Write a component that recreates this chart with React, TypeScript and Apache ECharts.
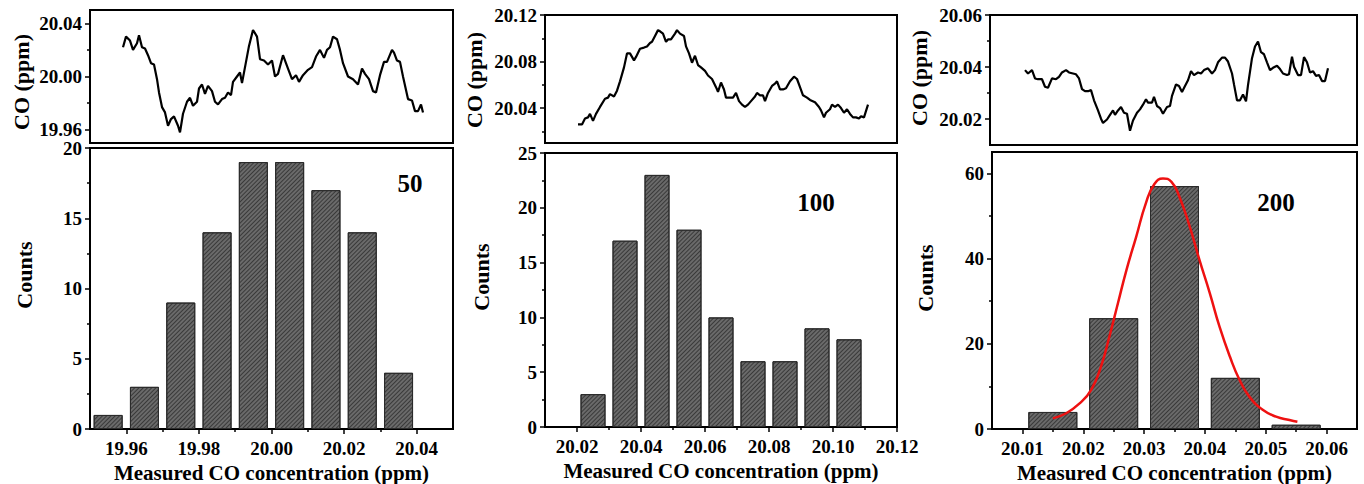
import React, { useEffect, useRef } from "react";
import * as echarts from "echarts";

// ---------- Data ----------
// Panel "50"
const time50 = [0,3,7,10,14,16,19,22,25,28,31,34,36,39,42,45,48,51,55,57,60,64,67,70,74,76,79,82,85,89,92,95,99,102,105,108,110,114,117,119,123,126,130,134,137,141,145,149,152,155,160,165,169,173,176,180,185,189,193,197,201,204,207,210,214,217,220,225,230,235,239,242,246,250,253,257,261,264,269,271,274,277,280,285,289,292,295,298,300];
const co50 = [20.022,20.030,20.027,20.020,20.025,20.031,20.022,20.021,20.016,20.010,20.009,19.998,19.988,19.977,19.973,19.963,19.968,19.970,19.963,19.958,19.972,19.981,19.984,19.978,19.981,19.991,19.994,19.987,19.993,19.989,19.981,19.979,19.983,19.984,19.988,19.986,19.996,20.000,20.003,19.995,20.011,20.023,20.035,20.030,20.013,20.012,20.009,20.012,20.000,20.002,20.016,20.006,19.998,20.001,19.996,20.001,20.005,20.007,20.015,20.020,20.014,20.020,20.022,20.030,20.028,20.020,20.010,20.000,19.998,19.994,20.006,20.002,19.998,19.989,19.988,20.001,20.011,20.011,20.020,20.018,20.012,20.011,20.000,19.983,19.982,19.974,19.974,19.979,19.973];
const bins50 = [19.955,19.965,19.975,19.985,19.995,20.005,20.015,20.025,20.035];
const counts50 = [1,3,9,14,19,19,17,14,4];

// Panel "100"
const time100 = [0,4,7,10,12,15,18,22,27,30,32,36,39,42,46,49,52,56,58,62,66,69,72,74,77,80,82,85,88,90,93,97,99,102,106,108,111,114,117,120,123,127,130,134,138,140,143,146,148,152,155,158,161,164,167,170,173,177,179,182,185,187,190,194,197,199,202,205,208,212,216,219,222,225,229,232,237,241,243,246,248,252,254,257,260,263,266,269,272,275,278,281,283,286,290];
const co100 = [20.026,20.026,20.031,20.032,20.035,20.029,20.035,20.041,20.048,20.049,20.052,20.050,20.055,20.063,20.075,20.087,20.087,20.081,20.084,20.091,20.092,20.093,20.096,20.097,20.102,20.107,20.106,20.104,20.097,20.099,20.099,20.104,20.107,20.104,20.102,20.093,20.087,20.079,20.085,20.077,20.075,20.072,20.068,20.065,20.058,20.054,20.062,20.056,20.049,20.049,20.049,20.053,20.046,20.043,20.041,20.043,20.046,20.050,20.053,20.051,20.051,20.046,20.053,20.059,20.061,20.063,20.056,20.056,20.057,20.063,20.067,20.065,20.058,20.051,20.049,20.047,20.045,20.041,20.038,20.032,20.036,20.039,20.043,20.041,20.043,20.040,20.036,20.039,20.035,20.032,20.032,20.031,20.033,20.032,20.043];
const bins100 = [20.025,20.035,20.045,20.055,20.065,20.075,20.085,20.095,20.105];
const counts100 = [3,17,23,18,10,6,6,9,8];

// Panel "200"
const time200 = [0,3,7,10,13,17,20,23,27,31,34,37,41,44,47,51,54,57,60,63,66,69,73,76,78,82,85,88,90,93,96,99,102,105,108,112,115,118,121,123,127,129,132,135,138,142,145,147,151,154,157,160,163,166,169,173,176,179,183,187,190,193,197,200,203,207,209,212,215,218,221,223,227,230,233,236,239,242,245,248,252,255,258,262,264,267,269,273,276,279,282,285,288,291,294,297,300,303];
const co200 = [20.0388,20.0375,20.0388,20.0356,20.0353,20.0353,20.0324,20.032,20.0356,20.0353,20.0362,20.0379,20.0388,20.0379,20.0376,20.0372,20.0356,20.0315,20.0307,20.0307,20.0311,20.0272,20.0233,20.0201,20.0185,20.0198,20.0216,20.0233,20.0216,20.0233,20.0246,20.0224,20.022,20.0155,20.0194,20.0224,20.0237,20.0255,20.0276,20.0263,20.0263,20.0285,20.025,20.0242,20.022,20.0246,20.025,20.0289,20.0333,20.0327,20.0304,20.0327,20.0349,20.0384,20.0369,20.0379,20.0375,20.0388,20.0395,20.0375,20.0388,20.0418,20.0436,20.0436,20.0421,20.0375,20.0333,20.0272,20.0272,20.0294,20.0268,20.033,20.0434,20.0479,20.0498,20.0457,20.0449,20.0418,20.0388,20.0397,20.0405,20.0392,20.0375,20.0369,20.0372,20.044,20.0401,20.0369,20.0369,20.0438,20.0418,20.0379,20.0384,20.0366,20.0369,20.0346,20.0346,20.0395];
const bins200 = [20.015,20.025,20.035,20.045,20.055];
const counts200 = [4,26,57,12,1];
const fitX200 = [20.015,20.0172,20.0194,20.0213,20.0229,20.0243,20.0257,20.0271,20.0287,20.0303,20.0317,20.0331,20.0345,20.0358,20.0375,20.0391,20.0408,20.0424,20.0441,20.0457,20.0473,20.0495,20.0517,20.0539,20.0552];
const fitY200 = [2.5,3.7,6.0,9.2,14.6,21.7,29.5,37.3,45.1,53.0,57.5,58.8,58.0,54.5,47.5,39.7,31.9,24.0,17.0,11.5,7.6,4.5,2.9,2.1,1.7];

// Tick values
const topYMajor50 = [19.96, 20.0, 20.04];
const topYMinor50 = [19.98, 20.02];
const topYMajor100 = [20.04, 20.08, 20.12];
const topYMinor100 = [20.02, 20.06, 20.1];
const topYMajor200 = [20.02, 20.04, 20.06];
const topYMinor200 = [20.03, 20.05];
const xMajor50 = [19.96, 19.98, 20.0, 20.02, 20.04];
const xMinor50 = [19.97, 19.99, 20.01, 20.03];
const xMajor100 = [20.02, 20.04, 20.06, 20.08, 20.1, 20.12];
const xMinor100 = [20.03, 20.05, 20.07, 20.09, 20.11];
const xMajor200 = [20.01, 20.02, 20.03, 20.04, 20.05, 20.06];
const xMinor200 = [20.015, 20.025, 20.035, 20.045, 20.055];
const yMajor50 = [0, 5, 10, 15, 20];
const yMinor50 = [2.5, 7.5, 12.5, 17.5];
const yMajor100 = [0, 5, 10, 15, 20, 25];
const yMinor100 = [2.5, 7.5, 12.5, 17.5, 22.5];
const yMajor200 = [0, 20, 40, 60];
const yMinor200 = [10, 30, 50];

const panelLabels = ["50", "100", "200"];
const yNameTop = "CO (ppm)";
const yNameBottom = "Counts";
const xNameBottom = "Measured CO concentration (ppm)";

const FONT = '"Liberation Serif", "Times New Roman", serif';

export default function App() {
  const ref = useRef<HTMLDivElement>(null);

  useEffect(() => {
    if (!ref.current) return;
    const chart = echarts.init(ref.current, undefined, { renderer: "svg" });

    const panels = [
      {
        time: time50, co: co50, bins: bins50, counts: counts50,
        topY: [19.95, 20.05], topT: [-33, 330], topYMajor: topYMajor50, topYMinor: topYMinor50,
        x: [19.95, 20.05], xMajor: xMajor50, xMinor: xMinor50,
        y: [0, 20], yMajor: yMajor50, yMinor: yMinor50,
        topGrid: { left: 90, top: 10, width: 363, height: 133 },
        botGrid: { left: 90, top: 148, width: 363, height: 281 },
        barWidth: 29,
        names: { coX: 21, coY: 82, cntX: 24, cntY: 275 },
        label: { x: 410, y: 183 },
      },
      {
        time: time100, co: co100, bins: bins100, counts: counts100,
        topY: [20.01, 20.12], topT: [-33, 319], topYMajor: topYMajor100, topYMinor: topYMinor100,
        x: [20.01, 20.12], xMajor: xMajor100, xMinor: xMinor100,
        y: [0, 25], yMajor: yMajor100, yMinor: yMinor100,
        topGrid: { left: 545, top: 15, width: 352, height: 128 },
        botGrid: { left: 545, top: 153, width: 352, height: 274 },
        barWidth: 25,
        names: { coX: 474, coY: 80, cntX: 481, cntY: 277 },
        label: { x: 816, y: 202 },
      },
      {
        time: time200, co: co200, bins: bins200, counts: counts200,
        topY: [20.01, 20.06], topT: [-35, 332], topYMajor: topYMajor200, topYMinor: topYMinor200,
        x: [20.005, 20.065], xMajor: xMajor200, xMinor: xMinor200,
        y: [0, 65], yMajor: yMajor200, yMinor: yMinor200,
        topGrid: { left: 990, top: 15, width: 367, height: 130 },
        botGrid: { left: 992, top: 152, width: 365, height: 277 },
        barWidth: 49,
        names: { coX: 919, coY: 78, cntX: 925, cntY: 278 },
        label: { x: 1276, y: 202 },
      },
    ];

    const grids: any[] = [];
    const xAxes: any[] = [];
    const yAxes: any[] = [];
    const series: any[] = [];
    const graphics: any[] = [];

    const labelStyle = { fontFamily: FONT, fontWeight: "bold", fontSize: 19, color: "#000" };

    const mainAxis = (gridIndex: number, min: number, max: number, major: number[], fmt: (v: number) => string, margin: number, extra: any = {}) => ({
      type: "value", gridIndex, min, max,
      axisLine: { show: true, onZero: false, lineStyle: { color: "#000", width: 2 } },
      axisTick: { show: true, customValues: major, length: 5, inside: false, lineStyle: { color: "#000", width: 1.5 } },
      axisLabel: { show: true, customValues: major, formatter: fmt, margin, ...labelStyle },
      splitLine: { show: false },
      ...extra,
    });
    const minorAxis = (gridIndex: number, min: number, max: number, minor: number[], extra: any = {}) => ({
      type: "value", gridIndex, min, max,
      axisLine: { show: false, onZero: false },
      axisTick: { show: true, customValues: minor, length: 3, inside: false, lineStyle: { color: "#000", width: 1.5 } },
      axisLabel: { show: false },
      splitLine: { show: false },
      ...extra,
    });
    const hiddenAxis = (gridIndex: number, min: number, max: number) => ({
      type: "value", gridIndex, min, max, show: false, axisLine: { onZero: false }, splitLine: { show: false },
    });

    const gridBase = { show: true, borderColor: "#000", borderWidth: 2, containLabel: false, outerBoundsMode: "none" };

    panels.forEach((p, i) => {
      const gTop = grids.length;
      grids.push({ ...p.topGrid, ...gridBase });
      const gBot = grids.length;
      grids.push({ ...p.botGrid, ...gridBase });

      // top grid axes
      const xTopIdx = xAxes.length;
      xAxes.push(hiddenAxis(gTop, p.topT[0], p.topT[1]));
      xAxes.push(hiddenAxis(gTop, p.topT[0], p.topT[1]));
      const yTopIdx = yAxes.length;
      yAxes.push(mainAxis(gTop, p.topY[0], p.topY[1], p.topYMajor, (v: number) => v.toFixed(2), 8, { position: "left" }));
      yAxes.push(minorAxis(gTop, p.topY[0], p.topY[1], p.topYMinor, { position: "left" }));

      // bottom grid axes
      const xBotIdx = xAxes.length;
      xAxes.push(mainAxis(gBot, p.x[0], p.x[1], p.xMajor, (v: number) => v.toFixed(2), 10, {
        position: "bottom",
        name: xNameBottom, nameLocation: "middle", nameGap: 31,
        nameTextStyle: { fontFamily: FONT, fontWeight: "bold", fontSize: 21, color: "#000" },
      }));
      xAxes.push(minorAxis(gBot, p.x[0], p.x[1], p.xMinor, { position: "bottom" }));
      const yBotIdx = yAxes.length;
      yAxes.push(mainAxis(gBot, p.y[0], p.y[1], p.yMajor, (v: number) => String(v), 8, { position: "left" }));
      yAxes.push(minorAxis(gBot, p.y[0], p.y[1], p.yMinor, { position: "left" }));

      series.push({
        type: "line",
        xAxisIndex: xTopIdx, yAxisIndex: yTopIdx,
        data: p.time.map((t, k) => [t, p.co[k]]),
        symbol: "none",
        lineStyle: { color: "#000", width: 2.2 },
        silent: true,
      });
      series.push({
        type: "bar",
        xAxisIndex: xBotIdx, yAxisIndex: yBotIdx,
        data: p.bins.map((b, k) => [b, p.counts[k]]),
        barWidth: p.barWidth,
        itemStyle: {
          color: "#6a6a6a",
          borderColor: "#2b2b2b",
          borderWidth: 1,
          decal: {
            symbol: "rect", symbolSize: 1, color: "rgba(25,25,25,0.6)",
            dashArrayX: [1, 0], dashArrayY: [1, 2], rotation: -Math.PI / 4,
          },
        },
        silent: true,
      });
      if (i === 2) {
        series.push({
          type: "line",
          xAxisIndex: xBotIdx, yAxisIndex: yBotIdx,
          data: fitX200.map((x, k) => [x, fitY200[k]]),
          smooth: true,
          symbol: "none",
          lineStyle: { color: "#ee1111", width: 2.5 },
          z: 5,
          silent: true,
        });
      }

      graphics.push({
        type: "text", x: p.names.coX, y: p.names.coY, rotation: Math.PI / 2,
        style: { text: yNameTop, align: "center", verticalAlign: "middle", font: `bold 22px ${FONT}`, fill: "#000" },
      });
      graphics.push({
        type: "text", x: p.names.cntX, y: p.names.cntY, rotation: Math.PI / 2,
        style: { text: yNameBottom, align: "center", verticalAlign: "middle", font: `bold 22px ${FONT}`, fill: "#000" },
      });
      graphics.push({
        type: "text", x: p.label.x, y: p.label.y,
        style: { text: panelLabels[i], align: "center", verticalAlign: "middle", font: `bold 25px ${FONT}`, fill: "#000" },
      });
    });

    chart.setOption({
      animation: false,
      backgroundColor: "#fff",
      grid: grids,
      xAxis: xAxes,
      yAxis: yAxes,
      series,
      graphic: graphics,
    });

    return () => chart.dispose();
  }, []);

  return (
    <div
      ref={ref}
      style={{ position: "absolute", left: 0, top: 0, width: 1364, height: 484, background: "#fff" }}
    />
  );
}
